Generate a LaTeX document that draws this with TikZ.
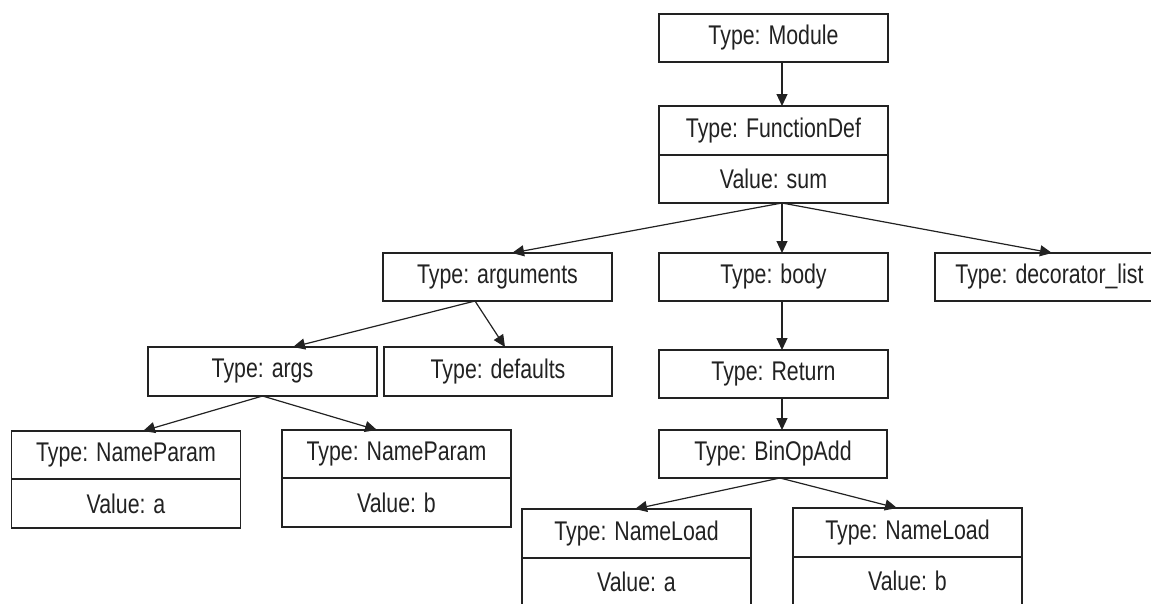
\documentclass[tikz,border=0pt]{standalone}
\usepackage{fontspec}
\setmainfont[FakeStretch=0.79]{Liberation Sans}
\usetikzlibrary{arrows.meta}
\definecolor{ink}{HTML}{222222}
\tikzset{
  box/.style={draw=ink, line width=1.4pt, minimum width=229pt, minimum height=48pt,
    inner sep=0pt, outer sep=0pt, text=ink, font=\fontsize{27}{30}\selectfont, fill=white},
  conn/.style={draw=ink, line width=1.2pt, -{Triangle[length=12pt,width=11pt]}}
}
\begin{document}
\begin{tikzpicture}[x=1pt,y=-1pt]
\useasboundingbox (0,0) rectangle (1151,603);
\clip (0,0) rectangle (1151,603);
% nodes
\node[box] (mod) at (773.5,38) {Type: Module};
\node[box, minimum height=49pt] (fdt) at (773.5,130.5) {Type: FunctionDef};
\node[box] (fdv) at (773.5,179) {Value: sum};
\node[box] (arg) at (497.5,277) {Type: arguments};
\node[box] (body) at (773.5,277) {Type: body};
\node[box] (deco) at (1049.5,277) {Type: decorator\_list};
\node[box, minimum height=49pt] (args) at (262.5,371.5) {Type: args};
\node[box, minimum width=228pt, minimum height=49pt] (defs) at (498,371.5) {Type: defaults};
\node[box] (npa) at (126,455) {Type: NameParam};
\node[box, minimum height=49pt] (npav) at (126,503.5) {Value: a};
\node[box] (npb) at (396.5,454) {Type: NameParam};
\node[box, minimum height=49pt] (npbv) at (396.5,502.5) {Value: b};
\node[box] (ret) at (773.5,374) {Type: Return};
\node[box, minimum width=228pt] (bin) at (773,454) {Type: BinOpAdd};
\node[box, minimum height=49pt] (nla) at (636.5,533.5) {Type: NameLoad};
\node[box] (nlav) at (636.5,582) {Value: a};
\node[box, minimum height=49pt] (nlb) at (907.5,532.5) {Type: NameLoad};
\node[box] (nlbv) at (907.5,581) {Value: b};
% connectors
\draw[conn] ([xshift=8.5pt]mod.south) -- ([xshift=8.5pt]fdt.north);
\draw[conn] ([xshift=8.5pt]fdv.south) -- ([xshift=14.5pt]arg.north);
\draw[conn] ([xshift=8.5pt]fdv.south) -- ([xshift=8.5pt]body.north);
\draw[conn] ([xshift=8.5pt]fdv.south) -- ([xshift=2.5pt]deco.north);
\draw[conn] ([xshift=-22.5pt]arg.south) -- ([xshift=30.5pt]args.north);
\draw[conn] ([xshift=-22.5pt]arg.south) -- ([xshift=7pt]defs.north);
\draw[conn] (args.south) -- ([xshift=17pt]npa.north);
\draw[conn] (args.south) -- ([xshift=-19.5pt]npb.north);
\draw[conn] ([xshift=8.5pt]body.south) -- ([xshift=8.5pt]ret.north);
\draw[conn] ([xshift=8.5pt]ret.south) -- ([xshift=9pt]bin.north);
\draw[conn] ([xshift=7pt]bin.south) -- ([xshift=-1.5pt]nla.north);
\draw[conn] ([xshift=7pt]bin.south) -- ([xshift=-10.5pt]nlb.north);
\end{tikzpicture}
\end{document}
